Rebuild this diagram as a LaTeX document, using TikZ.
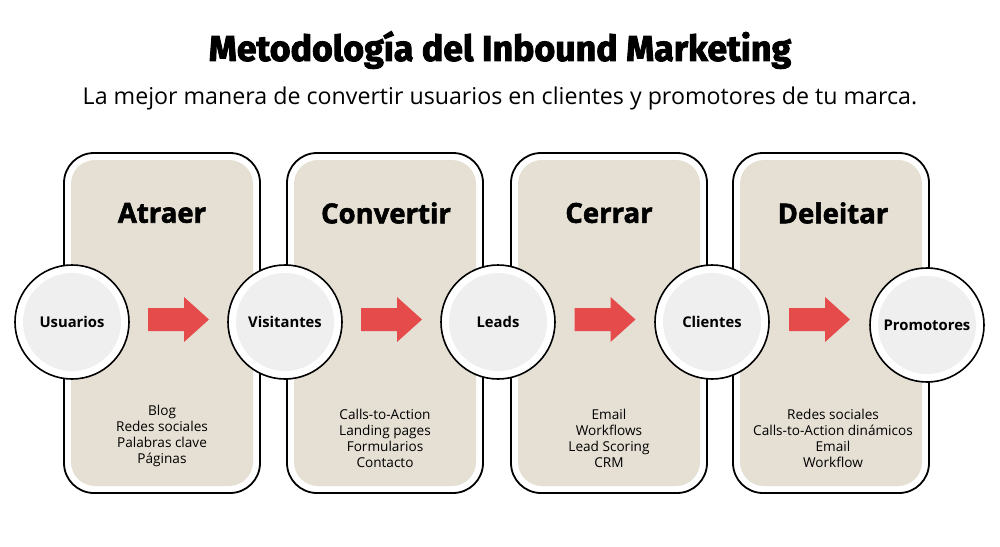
\documentclass[tikz,border=0pt]{standalone}
\usepackage{fontspec}
\setmainfont{Open Sans}
\newfontfamily\titlefont{Fira Sans}[BoldFeatures={FakeBold=2.5}]
\newfontfamily\headfont{Open Sans}[BoldFeatures={FakeBold=2}]
\usetikzlibrary{calc}
\definecolor{beige}{HTML}{E5DFD4}
\definecolor{coregrey}{HTML}{EFEFEF}
\definecolor{arrowred}{HTML}{E64B4B}
\newcommand\redarrow[1]{\fill[arrowred] ($(#1)+(0,-11.5)$) -- ++(36,0) -- ++(0,-11) -- ++(25,22.5) -- ++(-25,22.5) -- ++(0,-11) -- ++(-36,0) -- cycle;}
\tikzset{
  panel/.style={draw=black, line width=1.8pt, rounded corners=30pt, minimum width=196pt, minimum height=340pt, inner sep=0pt, fill=white},
  panelin/.style={fill=beige, rounded corners=24pt, minimum width=182pt, minimum height=326pt, inner sep=0pt},
  ring/.style={circle, draw=black, line width=1.6pt, fill=white, minimum size=114pt, inner sep=0pt},
  core/.style={circle, fill=coregrey, minimum size=98pt, inner sep=0pt, font=\bfseries\fontsize{14.8}{17}\selectfont},
  heading/.style={font=\headfont\bfseries\fontsize{27.5}{32}\selectfont},
  items/.style={align=center, font=\fontsize{13.6}{16}\selectfont},
}
\begin{document}
\begin{tikzpicture}[x=1pt,y=-1pt]
\useasboundingbox (0,0) rectangle (1000,546);
\fill[white] (0,0) rectangle (1000,546);
\node[font=\titlefont\bfseries\fontsize{35.7}{42}\selectfont] (title) at (500,50) {Metodología del Inbound Marketing};
\node[font=\fontsize{23.2}{28}\selectfont] (subtitle) at (500,98) {La mejor manera de convertir usuarios en clientes y promotores de tu marca.};

\foreach \n/\x in {1/162,2/385,3/609,4/831}{
  \node[panel] (p\n) at (\x,323) {};
  \node[panelin] (q\n) at (\x,323) {};
}
\node[heading] (h1) at (162,213) {Atraer};
\node[heading] (h2) at (386,213) {Convertir};
\node[heading] (h3) at (609,213) {Cerrar};
\node[heading] (h4) at (833,213) {Deleitar};

\node[items] (l1) at (162,436) {Blog\\Redes sociales\\Palabras clave\\Páginas};
\node[items] (l2) at (385,438) {Calls-to-Action\\Landing pages\\Formularios\\Contacto};
\node[items] (l3) at (609,438) {Email\\Workflows\\Lead Scoring\\CRM};
\node[items] (l4) at (833,438) {Redes sociales\\Calls-to-Action dinámicos\\Email\\Workflow};

\node[ring] (c1) at (72,322) {};
\node[ring] (c2) at (285,322) {};
\node[ring] (c3) at (498,322) {};
\node[ring] (c4) at (712,322) {};
\node[ring] (c5) at (927,325) {};
\node[core] (t1) at (c1) {Usuarios};
\node[core] (t2) at (c2) {Visitantes};
\node[core] (t3) at (c3) {Leads};
\node[core] (t4) at (c4) {Clientes};
\node[core] (t5) at (c5) {Promotores};

\coordinate (a1) at ($(c1)!0.5!(c2)+(-30.5,-2.5)$);
\coordinate (a2) at ($(c2)!0.5!(c3)+(-30.5,-2.5)$);
\coordinate (a3) at ($(c3)!0.5!(c4)+(-30.5,-2.5)$);
\coordinate (a4) at ($(c4)!0.5!(c5)+(-30.5,-4)$);
\redarrow{a1}
\redarrow{a2}
\redarrow{a3}
\redarrow{a4}
\end{tikzpicture}
\end{document}
